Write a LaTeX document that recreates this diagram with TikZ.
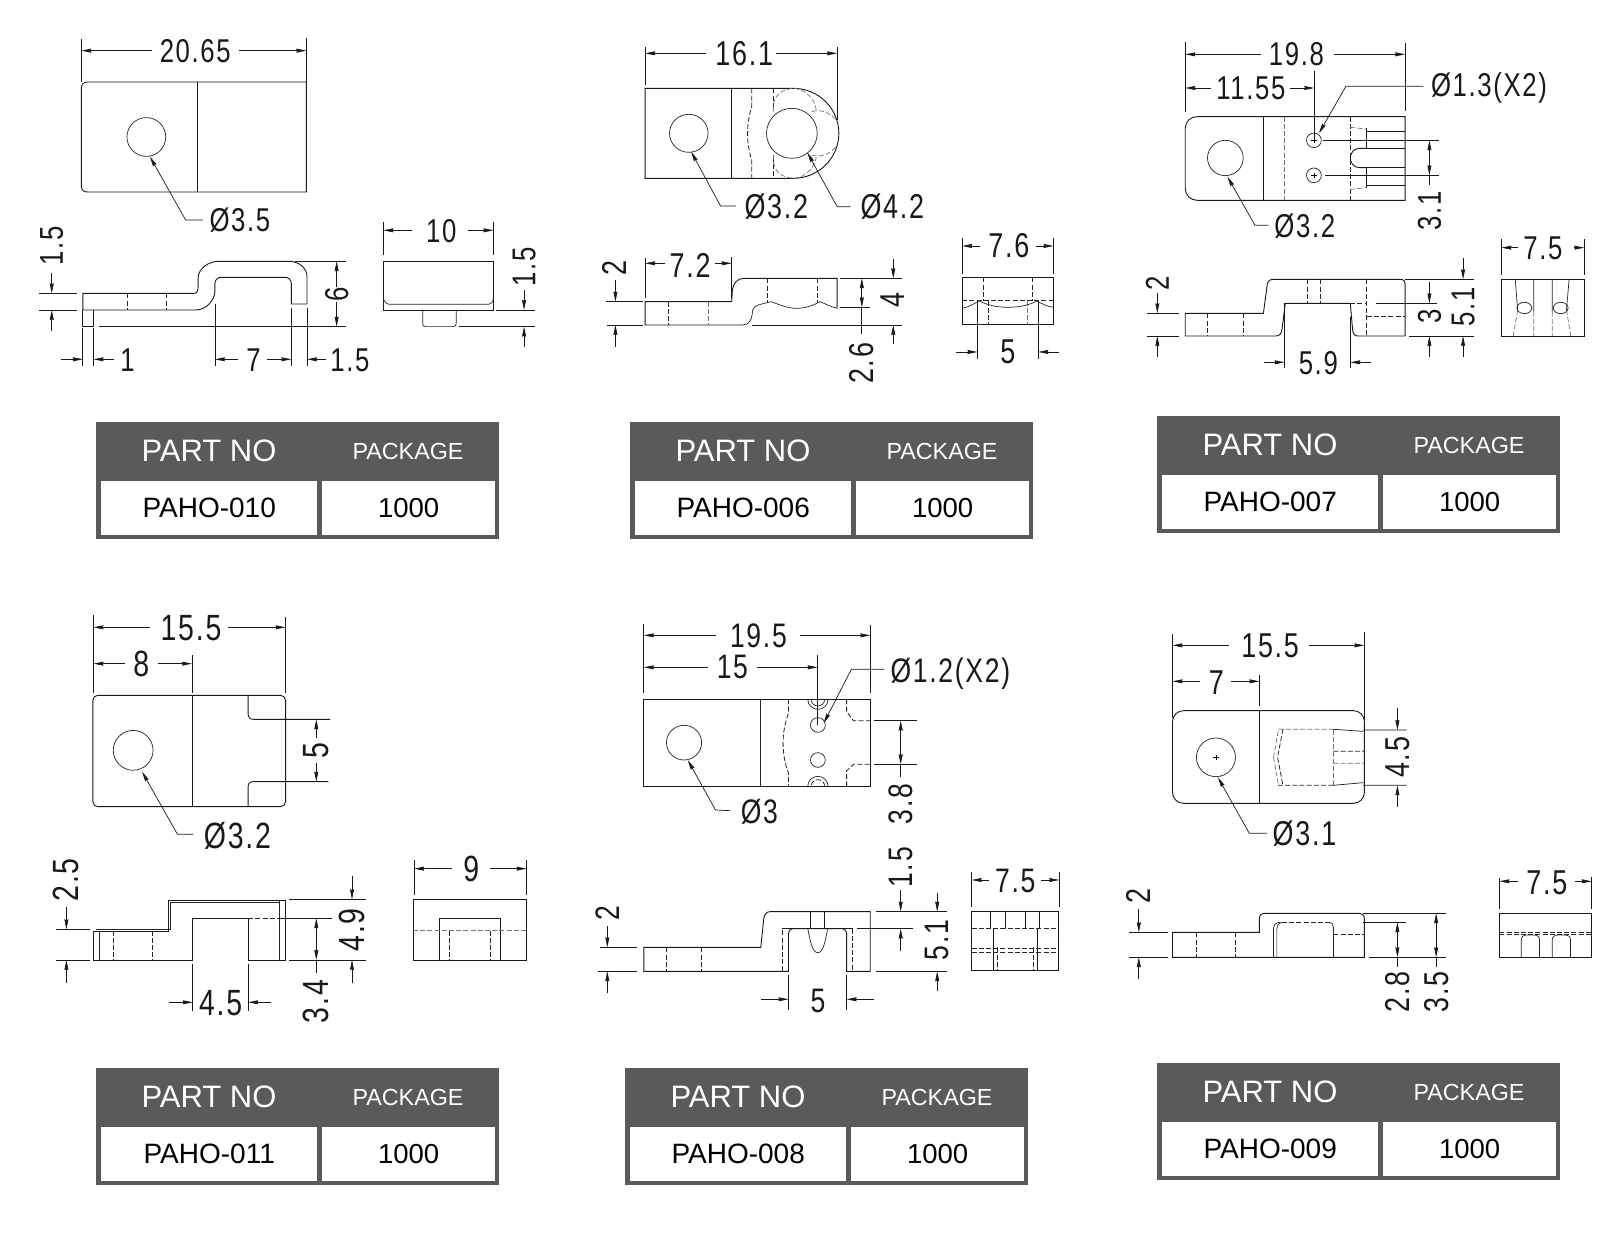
\documentclass[tikz,border=0pt]{standalone}
\usepackage{fontspec}
\setmainfont{Liberation Sans}
\newfontfamily\dimfont[FakeStretch=0.78,LetterSpace=5]{Liberation Sans}
\usetikzlibrary{arrows.meta}
\definecolor{tdark}{HTML}{5A5A5A}
\def\dsz{32}
\tikzset{
  part/.style={line width=.9pt,black!90},
  thin part/.style={line width=.7pt,black!85},
  hid/.style={line width=.8pt,black!85,dash pattern=on 5pt off 2.2pt},
  hidg/.style={line width=.7pt,black!55,dash pattern=on 5pt off 2.2pt},
  dl/.style={line width=.7pt,black!90,>={Stealth[length=10pt,width=4pt,inset=.8pt]}},
  dt/.style={font=\dimfont\fontsize{\dsz}{\dsz}\selectfont,inner sep=0pt,text=black!90},
  rt/.style={dt,rotate=90},
  tcell/.style={anchor=north west,fill=white,inner sep=0pt,text=black},
  thead/.style={inner sep=0pt,text=white}
}
\newcommand{\AR}[2]{\draw[dl,->] (#1)--(#2);}
\newcommand{\LD}[3]{\draw[dl,->] (#1)--(#2)--(#3);}
\newcommand{\ptable}[4]{%
 \begin{scope}[shift={(#2pt,-#3pt)}]
 \node[anchor=north west,fill=tdark,inner sep=0pt,minimum width=403pt,minimum height=117pt] (#1bg) at (0pt,0pt) {};
 \node[thead,font=\fontsize{31}{31}\selectfont] (#1h) at (113pt,-29pt) {PART NO};
 \node[thead,font=\fontsize{23.3}{24}\selectfont] (#1k) at (312pt,-29pt) {PACKAGE};
 \node[tcell,minimum width=216pt,minimum height=54pt,font=\fontsize{28}{28}\selectfont] (#1n) at (5pt,-59pt) {#4};
 \node[tcell,minimum width=173pt,minimum height=54pt,font=\fontsize{27.5}{28}\selectfont] (#1q) at (226pt,-59pt) {1000};
 \end{scope}}
\begin{document}
\begin{tikzpicture}
\useasboundingbox (0pt,0pt) rectangle (1618pt,-1235pt);
\fill[white] (0pt,0pt) rectangle (1618pt,-1235pt);

%% ---------------- Panel 1
\begin{scope}[x=.357pt,y=-.3333pt]
\def\dsz{33}
\draw[dl] (228,118)--(228,245) (858,115)--(858,245);
\AR{425,152}{228,152}\AR{670,152}{858,152}
\node[dt] (a1) at (547,152) {20.65};
\draw[part] (858,246)--(245,246) .. controls (235,246) and (228,253) .. (228,263)--(228,560) .. controls (228,570) and (235,576) .. (245,576)--(858,576)--cycle;
\draw[part] (553,246)--(553,576);
\draw[thin part] (410,411) circle[radius=19.4pt];
\LD{568,660}{520,660}{420,470}
\node[dt] (a2) at (672,660) {Ø3.5};
% side
\draw[part] (232,930)--(232,880)--(545,880) .. controls (552,880) and (555,870) .. (555,860)--(555,835) .. controls (555,805) and (585,784) .. (612,784)--(810,784) .. controls (838,784) and (860,805) .. (860,830)--(860,912)--(816,912)--(816,850) .. controls (816,840) and (808,832) .. (798,832)--(620,832) .. controls (610,832) and (602,840) .. (602,850)--(602,875) .. controls (600,905) and (575,930) .. (548,930)--(232,930);
\draw[part] (232,930)--(232,980)--(262,980)--(262,930);
\draw[hid] (357,880)--(357,930) (466,880)--(466,930);
\draw[dl] (110,880)--(215,880) (110,930)--(215,930) (825,784)--(970,784) (276,980)--(970,980);
\AR{145,820}{145,880}\AR{145,992}{145,930}
\node[rt] (a3) at (145,738) {1.5};
\AR{943,860}{943,784}\AR{943,905}{943,980}
\node[rt] (a4) at (943,882) {6};
\draw[dl] (232,985)--(232,1097) (262,985)--(262,1097) (602,912)--(602,1097) (816,925)--(816,1097) (860,925)--(860,1097);
\AR{170,1078}{232,1078}\AR{320,1078}{262,1078}
\AR{668,1078}{602,1078}\AR{748,1078}{816,1078}\AR{912,1078}{860,1078}
\node[dt] (a5) at (357,1080) {1};
\node[dt] (a6) at (710,1080) {7};
\node[dt] (a7) at (980,1080) {1.5};
% right view
\draw[part] (1074,784) rectangle (1382,930);
\draw[thin part] (1074,895) .. controls (1076,905) and (1082,913) .. (1092,913)--(1366,913) .. controls (1376,913) and (1382,905) .. (1382,895);
\draw[thin part] (1184,930)--(1184,970) .. controls (1184,977) and (1186,980) .. (1192,980)--(1268,980) .. controls (1275,980) and (1278,977) .. (1278,970)--(1278,930);
\draw[dl] (1074,665)--(1074,765) (1382,665)--(1382,765) (1390,930)--(1500,930) (1285,980)--(1500,980);
\AR{1155,691}{1074,691}\AR{1312,691}{1382,691}
\node[dt] (a8) at (1236,693) {10};
\AR{1468,870}{1468,930}\AR{1468,1040}{1468,980}
\node[rt] (a9) at (1468,800) {1.5};
\end{scope}

%% ---------------- Panel 2
\begin{scope}[x=.338pt,y=-.3333pt,shift={(560pt,0pt)}]
\def\dsz{34.5}
\draw[dl] (252,142)--(252,255) (820,142)--(820,360);
\AR{433,160}{252,160}\AR{640,160}{820,160}
\node[dt] (b1) at (545,162) {16.1};
\draw[part] (690,535)--(252,535)--(252,265)--(690,265) arc[start angle=-90,end angle=90,radius=135];
\draw[part] (508,265)--(508,535);
\draw[hid] (567,265)--(567,320) .. controls (558,350) and (555,375) .. (555,400) .. controls (555,425) and (558,450) .. (567,480)--(567,535);
\draw[hid] (630,265)--(630,330) (630,470)--(630,535);
\draw[thin part] (686,400) circle[radius=75];
\draw[hidg] (632,335) .. controls (625,285) and (660,265) .. (695,265) .. controls (730,270) and (755,300) .. (758,330);
\draw[hidg] (632,465) .. controls (625,515) and (660,535) .. (695,535) .. controls (730,530) and (755,500) .. (758,470);
\draw[hidg] (745,335) .. controls (770,325) and (805,340) .. (820,365);
\draw[hidg] (745,465) .. controls (770,475) and (805,460) .. (820,435);
\draw[thin part] (381,400) circle[radius=57];
\LD{520,618}{475,618}{388,455}
\LD{860,620}{820,620}{732,458}
\node[dt] (b2) at (640,620) {Ø3.2};
\node[dt] (b3) at (983,620) {Ø4.2};
% side
\draw[part] (820,925)--(820,835)--(545,835) .. controls (525,835) and (512,850) .. (510,870)--(508,905)--(252,905)--(252,975)--(540,975);
\draw[thin part] (540,975) .. controls (560,975) and (568,960) .. (570,930) .. controls (572,915) and (600,912) .. (625,905) .. controls (650,915) and (675,925) .. (700,925) .. controls (730,925) and (750,915) .. (770,905) .. controls (785,912) and (800,920) .. (820,925);
\draw[hid] (322,905)--(322,975) (613,835)--(613,908) (762,835)--(762,908);
\draw[hidg] (440,905)--(440,975);
\draw[dl] (252,775)--(252,895) (508,772)--(508,895) (137,905)--(245,905) (140,975)--(245,975) (568,975)--(1012,975) (828,835)--(1012,835) (828,922)--(917,922);
\AR{310,790}{252,790}\AR{458,790}{508,790}
\node[dt] (b4) at (385,795) {7.2};
\AR{164,840}{164,905}\AR{164,1040}{164,975}
\node[rt] (b5) at (160,805) {2};
\AR{986,778}{986,835}\AR{986,1033}{986,975}
\draw[dl,<->] (893,835)--(893,922);
\draw[dl] (893,922)--(893,1003);
\node[rt] (b6) at (985,900) {4};
\node[rt] (b7) at (893,1090) {2.6};
% right view
\draw[part] (1190,832) rectangle (1460,973);
\draw[hid] (1190,902)--(1460,902) (1252,832)--(1252,902) (1398,832)--(1398,902) (1267,902)--(1267,973);
\draw[hidg] (1382,902)--(1382,973);
\draw[thin part] (1190,925) .. controls (1210,922) and (1225,910) .. (1240,903) .. controls (1265,915) and (1290,922) .. (1325,922) .. controls (1360,922) and (1390,915) .. (1410,903) .. controls (1425,910) and (1440,920) .. (1460,922);
\draw[dl] (1235,903)--(1235,1078) (1415,903)--(1415,1078) (1190,715)--(1190,822) (1460,715)--(1460,822);
\AR{1243,738}{1190,738}\AR{1408,738}{1460,738}
\node[dt] (b8) at (1328,738) {7.6};
\AR{1172,1056}{1235,1056}\AR{1475,1056}{1415,1056}
\node[dt] (b9) at (1325,1056) {5};
\end{scope}

%% ---------------- Panel 3
\begin{scope}[x=.3367pt,y=-.3333pt,shift={(1090pt,0pt)}]
\def\dsz{33}
\draw[dl] (283,127)--(283,335) (936,130)--(936,333) (666,212)--(666,420);
\AR{507,163}{283,163}\AR{725,163}{936,163}
\node[dt] (c1) at (613,163) {19.8};
\AR{360,264}{283,264}\AR{595,264}{666,264}
\node[dt] (c2) at (478,265) {11.55};
\LD{990,259}{760,259}{680,400}
\node[dt] (c3) at (1185,265) {Ø1.3(X2)};
\draw[part] (936,350)--(318,350) .. controls (298,350) and (283,365) .. (283,385)--(283,565) .. controls (283,585) and (298,601) .. (318,601)--(936,601)--cycle;
\draw[part] (515,350)--(515,601);
\draw[hidg] (577,350)--(577,601);
\draw[hid] (773,350)--(773,601);
\draw[thin part] (665,421) circle[radius=22] (665,526) circle[radius=22];
\draw[line width=.5pt] (655,421)--(675,421) (665,413)--(665,429) (655,526)--(675,526) (665,518)--(665,534);
\draw[thin part] (402,474) circle[radius=53];
\LD{530,676}{490,676}{408,530}
\node[dt] (c4) at (638,678) {Ø3.2};
\draw[part] (820,385)--(820,445) (820,503)--(820,565) (820,393)--(936,393) (820,445)--(936,445) (820,503)--(936,503) (820,555)--(936,555);
\draw[hidg] (773,382)--(820,387) (773,568)--(820,563);
\draw[part] (820,445)--(800,445) .. controls (785,445) and (773,458) .. (773,474) .. controls (773,490) and (785,503) .. (800,503)--(820,503);
\draw[dl] (692,421)--(1036,421) (697,526)--(1036,526);
\draw[dl,<->] (1008,421)--(1008,526);
\draw[dl] (1008,526)--(1008,556);
\node[rt] (c5) at (1008,632) {3.1};
% side
\draw[part] (283,940)--(515,940)--(527,850) .. controls (529,842) and (535,838) .. (542,838)--(925,838) .. controls (932,838) and (936,844) .. (936,852)--(936,1008)--(795,1008) .. controls (785,1008) and (781,1000) .. (780,990)--(773,910)--(580,910)--(570,990) .. controls (568,1002) and (562,1008) .. (552,1008)--(283,1008)--cycle;
\draw[hid] (348,940)--(348,1008) (455,940)--(455,1008) (645,838)--(645,910) (685,838)--(685,910) (822,838)--(822,1008) (773,910)--(822,910) (822,950)--(936,950);
\draw[dl] (170,940)--(263,940) (170,1008)--(263,1008) (936,838)--(1140,838) (850,910)--(1032,910) (948,1008)--(1140,1008) (578,910)--(578,1105) (773,950)--(773,1105);
\AR{200,880}{200,940}\AR{200,1070}{200,1008}
\node[rt] (c6) at (200,850) {2};
\AR{1108,775}{1108,838}\AR{1108,1070}{1108,1008}
\AR{1008,845}{1008,910}\AR{1008,1070}{1008,1008}
\node[rt] (c7) at (1008,950) {3};
\node[rt] (c8) at (1108,920) {5.1};
\AR{518,1087}{578,1087}\AR{835,1087}{773,1087}
\node[dt] (c9) at (678,1090) {5.9};
% right
\draw[part] (1222,838) rectangle (1468,1008);
\draw[thin part] (1263,838)--(1270,930) (1423,838)--(1415,930) (1318,838)--(1318,935) (1373,838)--(1373,935);
\draw[hidg] (1270,930)--(1257,1008) (1318,935)--(1318,1008) (1373,935)--(1373,1008) (1415,930)--(1428,1008);
\draw[thin part] (1290,924) ellipse[x radius=22,y radius=17] (1398,924) ellipse[x radius=22,y radius=17];
\draw[dl] (1222,718)--(1222,825) (1468,718)--(1468,825);
\AR{1272,743}{1222,743}\AR{1436,743}{1468,743}
\node[dt] (c10) at (1345,745) {7.5};
\end{scope}

%% ---------------- Panel 4
\begin{scope}[x=.357pt,y=-.3333pt,shift={(0pt,-590pt)}]
\def\dsz{36.5}
\draw[dl] (262,75)--(262,308) (800,80)--(800,308) (538,195)--(538,308);
\AR{420,112}{262,112}\AR{640,112}{800,112}
\node[dt] (d1) at (535,114) {15.5};
\AR{350,221}{262,221}\AR{442,221}{538,221}
\node[dt] (d2) at (396,222) {8};
\draw[part,rounded corners=5pt] (260,316) rectangle (800,650);
\draw[part] (538,316)--(538,650);
\draw[part] (695,316)--(695,372) .. controls (695,382) and (700,388) .. (710,388)--(925,388);
\draw[part] (695,650)--(695,590) .. controls (695,580) and (700,575) .. (710,575)--(920,575);
\draw[thin part] (373,481) circle[radius=19.9pt];
\LD{542,733}{497,733}{398,545}
\node[dt] (d3) at (665,737) {Ø3.2};
\AR{886,445}{886,388}\AR{886,520}{886,575}
\node[rt] (d4) at (886,482) {5};
% side
\draw[part] (262,1110)--(262,1025)--(472,1025)--(472,930)--(800,930)--(800,1110)--(695,1110)--(695,985)--(540,985)--(540,1110)--cycle;
\draw[thin part] (268,1018)--(478,1018)--(478,936)--(783,936) (278,1022)--(278,1110) (783,930)--(783,1110);
\draw[hid] (318,1022)--(318,1110) (427,1022)--(427,1110) (695,985)--(783,985);
\draw[dl] (783,985)--(930,985) (157,1018)--(252,1018) (157,1110)--(252,1110) (810,928)--(1025,928) (810,1110)--(1025,1110);
\AR{186,950}{186,1018}\AR{186,1180}{186,1110}
\node[rt] (d5) at (186,870) {2.5};
\AR{986,858}{986,928}\AR{986,1180}{986,1110}
\draw[dl,<->] (886,985)--(886,1110);
\draw[dl] (886,1110)--(886,1148);
\node[rt] (d6) at (986,1020) {4.9};
\node[rt] (d7) at (886,1235) {3.4};
\draw[dl] (540,1122)--(540,1262) (695,1122)--(695,1262);
\AR{473,1237}{540,1237}\AR{760,1237}{695,1237}
\node[dt] (d8) at (618,1238) {4.5};
% right
\draw[part] (1157,928) rectangle (1475,1110);
\draw[part] (1230,1110)--(1230,985)--(1402,985)--(1402,1110);
\draw[hidg] (1157,1022)--(1475,1022);
\draw[hid] (1258,1022)--(1258,1110) (1374,1022)--(1374,1110);
\draw[dl] (1160,810)--(1160,915) (1475,810)--(1475,915);
\AR{1265,836}{1160,836}\AR{1372,836}{1475,836}
\node[dt] (d9) at (1320,838) {9};
\end{scope}

%% ---------------- Panel 5
\begin{scope}[x=.338pt,y=-.3333pt,shift={(560pt,-590pt)}]
\def\dsz{34}
\draw[dl] (248,102)--(248,308) (918,105)--(918,308) (762,195)--(762,405);
\AR{462,136}{248,136}\AR{710,136}{918,136}
\node[dt] (e1) at (587,136) {19.5};
\AR{437,232}{248,232}\AR{583,232}{762,232}
\node[dt] (e2) at (510,232) {15};
\LD{960,238}{862,238}{780,400}
\node[dt] (e3) at (1155,250) {Ø1.2(X2)};
\draw[part] (248,328) rectangle (918,589);
\draw[thin part] (594,328)--(594,589);
\draw[hid] (676,328)--(676,370) .. controls (665,400) and (660,430) .. (660,458) .. controls (660,490) and (665,520) .. (676,550)--(676,589);
\draw[thin part] (763,405) circle[radius=22] (763,510) circle[radius=22] (367,458) circle[radius=52];
\draw[thin part] (733,328) arc[start angle=180,end angle=0,radius=30];
\draw[thin part] (793,589) arc[start angle=0,end angle=-180,radius=30];
\draw[thin part] (743,328) arc[start angle=180,end angle=0,radius=20];
\draw[hid] (783,589) arc[start angle=0,end angle=-180,radius=20];
\draw[hid] (848,328)--(848,365)--(868,392)--(918,392) (848,589)--(848,543)--(868,523)--(918,523);
\draw[dl] (930,392)--(1055,392) (930,523)--(1055,523);
\draw[dl,<->] (1008,392)--(1008,523);
\draw[dl] (1008,523)--(1008,560);
\node[rt] (e4) at (1008,642) {3.8};
\LD{503,662}{460,660}{378,510}
\node[dt] (e5) at (590,665) {Ø3};
% side
\draw[part] (248,1072)--(594,1072)--(603,985) .. controls (605,972) and (612,965) .. (622,965)--(918,965)--(918,1144)--(848,1144)--(848,1032) .. controls (848,1022) and (842,1016) .. (832,1016)--(692,1016) .. controls (682,1016) and (676,1022) .. (676,1032)--(676,1144)--(248,1144)--cycle;
\draw[part] (658,1016)--(866,1016);
\draw[hid] (658,1144)--(658,1016) (866,1016)--(866,1144);
\draw[part] (742,965)--(742,1016) (782,965)--(782,1016);
\draw[thin part] (733,1016) .. controls (740,1050) and (745,1088) .. (763,1088) .. controls (780,1088) and (785,1050) .. (792,1016);
\draw[hid] (316,1072)--(316,1144) (418,1072)--(418,1144);
\draw[dl] (880,1015)--(1045,1015) (935,965)--(1145,965) (935,1144)--(1145,1144) (117,1072)--(228,1072) (112,1144)--(228,1144) (676,1155)--(676,1260) (848,1155)--(848,1260);
\AR{140,1008}{140,1072}\AR{140,1210}{140,1144}
\node[rt] (e6) at (140,968) {2};
\AR{1008,900}{1008,965}\AR{1008,1082}{1008,1016}
\node[rt] (e7) at (1008,832) {1.5};
\AR{1116,908}{1116,965}\AR{1116,1202}{1116,1144}
\node[rt] (e8) at (1116,1050) {5.1};
\AR{594,1228}{676,1228}\AR{928,1228}{848,1228}
\node[dt] (e9) at (763,1232) {5};
% right
\draw[part] (1218,965) rectangle (1475,1140);
\draw[part] (1274,965)--(1274,1016) (1378,965)--(1378,1016) (1418,965)--(1418,1016) (1282,1016)--(1282,1140) (1413,1016)--(1413,1140);
\draw[thin part] (1318,965)--(1318,1016);
\draw[hid] (1218,1016)--(1475,1016) (1218,1076)--(1475,1076) (1218,1088)--(1475,1088) (1294,1072)--(1294,1140) (1402,1072)--(1402,1140);
\draw[dl] (1218,845)--(1218,950) (1477,845)--(1477,950);
\AR{1270,870}{1218,870}\AR{1424,870}{1477,870}
\node[dt] (e10) at (1347,872) {7.5};
\end{scope}

%% ---------------- Panel 6
\begin{scope}[x=.3367pt,y=-.3333pt,shift={(1090pt,-590pt)}]
\def\dsz{34.5}
\draw[dl] (245,132)--(245,385) (815,125)--(815,390) (503,255)--(503,347);
\AR{412,166}{245,166}\AR{650,166}{815,166}
\node[dt] (f1) at (535,168) {15.5};
\AR{328,274}{245,274}\AR{420,274}{503,274}
\node[dt] (f2) at (375,277) {7};
\draw[part,rounded corners=11pt] (245,362) rectangle (815,640);
\draw[part] (503,362)--(503,640);
\draw[thin part] (374,502) circle[radius=58];
\draw[line width=.5pt] (366,502)--(382,502) (374,494)--(374,510);
\LD{525,730}{473,730}{380,562}
\node[dt] (f3) at (637,730) {Ø3.1};
\draw[hidg] (560,418)--(723,418) (723,420)--(723,586) (723,520)--(815,520) (545,502)--(560,418) (545,502)--(560,586);
\draw[hid] (573,418)--(557,502)--(573,586) (558,586)--(723,586) (723,484)--(815,484);
\draw[dl] (723,418)--(812,424) (723,586)--(812,578) (812,420)--(940,420) (812,586)--(940,586);
\AR{913,355}{913,420}\AR{913,650}{913,586}
\node[rt] (f4) at (913,502) {4.5};
% side
\draw[part] (245,1027)--(503,1027)--(503,985) .. controls (503,975) and (510,970) .. (520,970)--(798,970) .. controls (808,970) and (815,977) .. (815,987)--(815,1102)--(245,1102)--cycle;
\draw[hid] (316,1027)--(316,1102) (432,1027)--(432,1102) (570,997)--(710,997) (723,1033)--(815,1033);
\draw[thin part] (545,1102)--(545,1018) .. controls (545,1005) and (552,997) .. (565,997);
\draw[thin part] (555,1102)--(555,1018) .. controls (555,1005) and (562,997) .. (575,997);
\draw[thin part] (710,997) .. controls (718,997) and (723,1003) .. (723,1012)--(723,1102);
\draw[dl] (810,970)--(1056,970) (810,997)--(938,997) (830,1102)--(1056,1102) (116,1027)--(232,1027) (116,1102)--(232,1102);
\AR{145,958}{145,1027}\AR{145,1168}{145,1102}
\node[rt] (f5) at (145,918) {2};
\draw[dl,<->] (913,997)--(913,1102);
\draw[dl] (913,1102)--(913,1130);
\draw[dl,<->] (1028,970)--(1028,1102);
\draw[dl] (1028,1102)--(1028,1130);
\node[rt] (f6) at (913,1205) {2.8};
\node[rt] (f7) at (1028,1205) {3.5};
% right
\draw[part] (1216,970) rectangle (1490,1102);
\draw[hid] (1216,1027)--(1490,1027) (1216,1033)--(1490,1033);
\draw[thin part] (1281,1102)--(1281,1050) .. controls (1281,1040) and (1287,1035) .. (1295,1035)--(1321,1035) .. controls (1329,1035) and (1335,1040) .. (1335,1050)--(1335,1102);
\draw[thin part] (1373,1102)--(1373,1050) .. controls (1373,1040) and (1379,1035) .. (1387,1035)--(1413,1035) .. controls (1421,1035) and (1427,1040) .. (1427,1050)--(1427,1102);
\draw[dl] (1216,865)--(1216,958) (1490,862)--(1490,958);
\AR{1270,874}{1216,874}\AR{1440,874}{1490,874}
\node[dt] (f8) at (1357,877) {7.5};
\end{scope}

%% ---------------- Tables
\ptable{t1}{96}{422}{PAHO-010}
\ptable{t2}{630}{422}{PAHO-006}
\ptable{t3}{1157}{416}{PAHO-007}
\ptable{t4}{96}{1068}{PAHO-011}
\ptable{t5}{625}{1068}{PAHO-008}
\ptable{t6}{1157}{1063}{PAHO-009}
\end{tikzpicture}
\end{document}
